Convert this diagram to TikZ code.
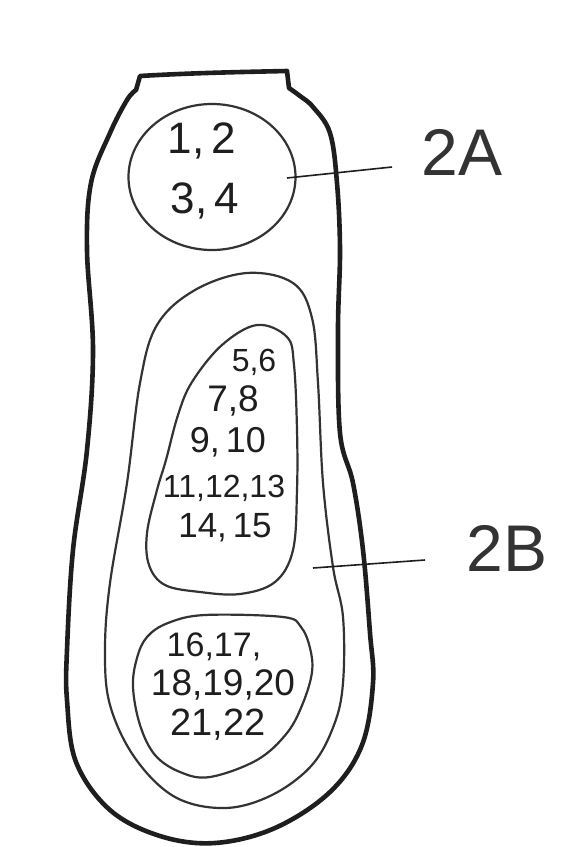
\documentclass[tikz,border=0pt]{standalone}
\usepackage{fontspec}
\setmainfont{Liberation Sans}
\usetikzlibrary{shapes.geometric}
\definecolor{ink}{HTML}{1E1E1E}
\definecolor{pencil}{HTML}{333333}
\begin{document}
\begin{tikzpicture}[x=1pt,y=-1pt,
  outline/.style={line width=4.6pt, draw=ink, line join=round},
  zone/.style={line width=2.2pt, draw=pencil},
  lead/.style={line width=1.6pt, draw=ink},
  num/.style={inner sep=0pt, text=ink},
  lab/.style={inner sep=0pt, text=pencil, font=\fontsize{66}{70}\selectfont}]
\useasboundingbox[fill=white] (0,0) rectangle (566,847);

% outer body
\draw[outline] (140,76) .. controls (190,73) and (240,72) .. (287,71)
  -- plot[smooth, tension=0.6] coordinates {(289,88) (300,96) (313,107) (330,133) (337,183) (340,250)
     (338,330) (340,433) (353,483) (363,550) (370,633) (373,683) (362,745)
     (330,792) (275,828) (215,843) (160,836) (110,810) (76,762) (67,700) (67,650)
     (73,550) (87,450) (93,350) (87,250) (91,183) (110,133) (127,100) (136,90)}
  -- cycle;

% zone 2B outer contour
\draw[zone] plot[smooth cycle, tension=0.6] coordinates {(247,273) (293,283) (312,318) (318,383)
  (323,483) (333,567) (343,617) (343,683) (334,725) (312,765) (272,795) (225,808)
  (175,797) (135,758) (110,705) (105,650) (110,583) (127,483) (140,383) (157,325) (195,290)};

% inner blob 5..15
\draw[zone] plot[smooth cycle, tension=0.6] coordinates {(257,325) (287,337) (294,365) (297,430)
  (297,490) (293,550) (275,582) (240,594) (200,592) (165,585) (149,565) (147,533)
  (157,490) (166,460) (178,415) (192,382) (222,345)};

% bottom blob 16..22
\draw[zone] plot[smooth cycle, tension=0.6] coordinates {(205,615) (283,617) (301,627) (310,648)
  (312,672) (303,703) (287,733) (257,760) (210,777) (180,772) (155,755) (140,725)
  (133,687) (137,658) (147,637) (168,623)};

% zone 2A circle
\node[zone, ellipse, minimum width=167pt, minimum height=146pt, inner sep=0pt] (zA) at (212,177) {};
\node[num, font=\fontsize{44}{48}\selectfont] (n12) at (202,141) {1,\,2};
\node[num, font=\fontsize{44}{48}\selectfont] (n34) at (205,201) {3,\,4};

% middle numbers
\node[num, font=\fontsize{32}{36}\selectfont] (n56) at (254,362) {5,6};
\node[num, font=\fontsize{37}{40}\selectfont] (n78) at (233,401) {7,8};
\node[num, font=\fontsize{36}{40}\selectfont] (n910) at (228,442) {9,\,10};
\node[num, font=\fontsize{32}{36}\selectfont] (n1113) at (224,488) {11,12,13};
\node[num, font=\fontsize{35}{40}\selectfont] (n1415) at (225,528) {14,\,15};

% bottom numbers
\node[num, font=\fontsize{34}{38}\selectfont] (n1617) at (214,647) {16,17,};
\node[num, font=\fontsize{37}{40}\selectfont] (n1820) at (223,685) {18,19,20};
\node[num, font=\fontsize{38}{40}\selectfont] (n2122) at (218,725) {21,22};

% labels and leaders
\node[lab] (tA) at (462,152) {2A};
\node[lab] (tB) at (507,548) {2B};
\coordinate (a1) at (287,178);
\coordinate (a2) at (392,167);
\coordinate (b1) at (313,568);
\coordinate (b2) at (425,560);
\draw[lead] (a1) -- (a2);
\draw[lead] (b1) -- (b2);
\end{tikzpicture}
\end{document}
